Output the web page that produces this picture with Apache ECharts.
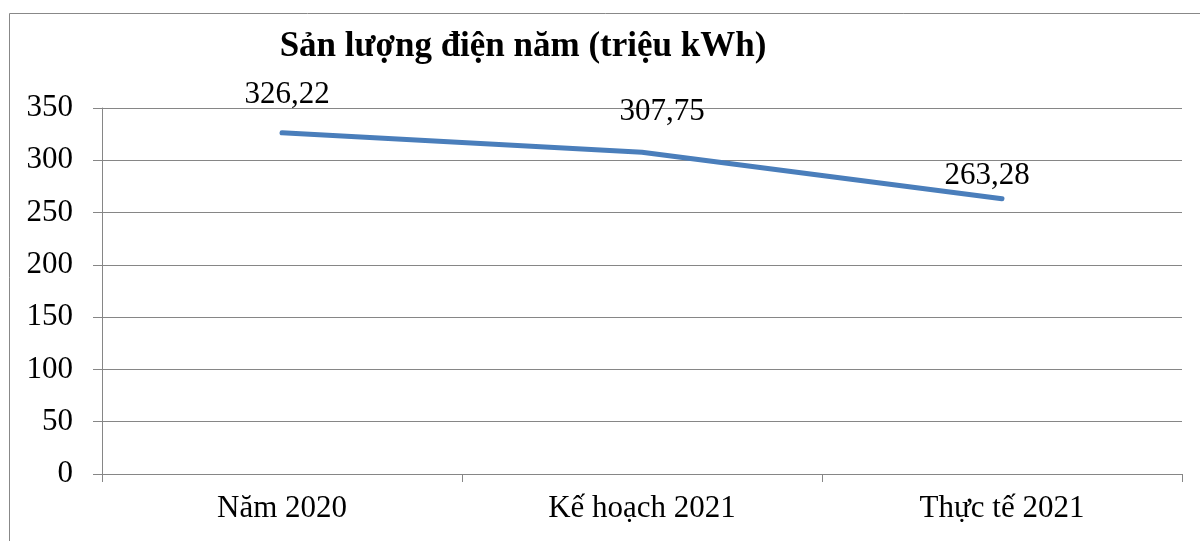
<!DOCTYPE html>
<html>
<head>
<meta charset="utf-8">
<script src="https://cdn.jsdelivr.net/npm/echarts@6/dist/echarts.min.js"></script>
<style>
html,body{margin:0;padding:0;background:#fff;}
#chart{width:1200px;height:541px;}
</style>
</head>
<body>
<div id="chart"></div>
<script>
const titleText = 'Sản lượng điện năm (triệu kWh)';
const categories = ['Năm 2020', 'Kế hoạch 2021', 'Thực tế 2021'];
const values = [326.22, 307.75, 263.28];
const valueLabels = ['326,22', '307,75', '263,28'];
const labelOffsets = [[5, -23], [20, -25], [-15, -7]];
const yTicks = [0, 50, 100, 150, 200, 250, 300, 350];

const FONT = "'Liberation Serif', 'Times New Roman', serif";
const chart = echarts.init(document.getElementById('chart'), null, {renderer: 'canvas'});
chart.setOption({
  animation: false,
  backgroundColor: '#ffffff',
  title: {
    text: titleText,
    left: 518, top: 24, textAlign: 'center',
    textStyle: {fontFamily: FONT, fontSize: 35, fontWeight: 'bold', color: '#000'}
  },
  graphic: [{
    type: 'rect', silent: true, z: -1,
    shape: {x: 9.5, y: 13.5, width: 1300, height: 700},
    style: {fill: 'none', stroke: '#888888', lineWidth: 1}
  }],
  grid: {left: 102, right: 18, top: 108, bottom: 67, containLabel: false},
  xAxis: {
    type: 'category',
    data: categories,
    boundaryGap: true,
    axisLine: {show: true, lineStyle: {color: '#868686', width: 1}},
    axisTick: {show: true, length: 8, inside: false, lineStyle: {color: '#868686'}},
    axisLabel: {fontFamily: FONT, fontSize: 31, color: '#000', margin: 19},
    splitLine: {show: false}
  },
  yAxis: {
    type: 'value',
    min: yTicks[0], max: yTicks[yTicks.length - 1], interval: 50,
    axisLine: {show: true, lineStyle: {color: '#868686', width: 1}},
    axisTick: {show: true, length: 9, lineStyle: {color: '#868686'}},
    axisLabel: {fontFamily: FONT, fontSize: 31, color: '#000', margin: 29},
    splitLine: {show: true, lineStyle: {color: '#868686', width: 1}}
  },
  series: [{
    type: 'line',
    data: values.map((v, i) => ({
      value: v,
      label: {offset: labelOffsets[i]}
    })),
    showSymbol: true,
    symbol: 'circle',
    symbolSize: 0,
    lineStyle: {color: '#4A7EBB', width: 5, cap: 'round', join: 'round'},
    itemStyle: {color: '#4A7EBB'},
    label: {
      show: true, position: 'top', distance: 0,
      fontFamily: FONT, fontSize: 31, color: '#000',
      formatter: p => valueLabels[p.dataIndex]
    }
  }]
});
</script>
</body>
</html>
